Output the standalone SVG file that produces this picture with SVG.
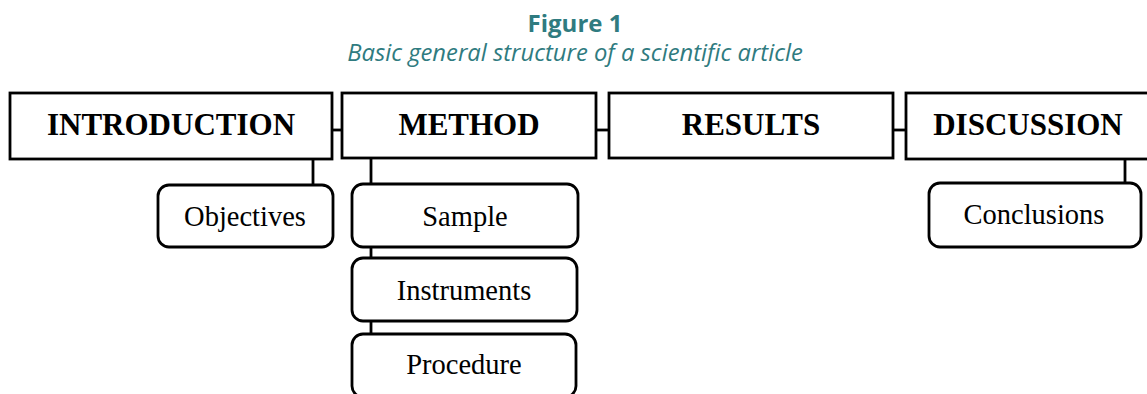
<svg xmlns="http://www.w3.org/2000/svg" width="1147" height="394" viewBox="0 0 1147 394">
<style>
.main{fill:#fff;stroke:#000;stroke-width:2.8}
.sub{fill:#fff;stroke:#000;stroke-width:2.8}
.h{font-family:"Liberation Serif",serif;font-weight:bold;font-size:31px;text-anchor:middle;fill:#000}
.s{font-family:"Liberation Serif",serif;font-size:28.5px;text-anchor:middle;fill:#000}
.c line{stroke:#000;stroke-width:2.8}
.t1{font-family:"Open Sans",sans-serif;font-weight:bold;font-size:24px;text-anchor:middle;fill:#2f7b80}
.t2{font-family:"Open Sans",sans-serif;font-style:italic;font-size:23.8px;text-anchor:middle;fill:#2f7b80}
</style>
<rect width="1147" height="394" fill="#fff"/>
<text class="t1" x="575" y="32">Figure 1</text>
<text class="t2" x="575" y="61">Basic general structure of a scientific article</text>
<g class="c" id="connectors">
<line x1="332" y1="130" x2="342" y2="130"/>
<line x1="596" y1="130" x2="609" y2="130"/>
<line x1="893" y1="130" x2="906" y2="130"/>
<line x1="313" y1="159" x2="313" y2="185"/>
<line x1="371" y1="158" x2="371" y2="184"/>
<line x1="371" y1="247" x2="371" y2="258"/>
<line x1="371" y1="321" x2="371" y2="334"/>
<line x1="1125" y1="159" x2="1125" y2="183"/>
</g>
<g id="introduction"><rect class="main" x="10" y="93" width="322" height="66"/><text class="h" x="171" y="135">INTRODUCTION</text></g>
<g id="method"><rect class="main" x="342" y="93" width="254" height="65"/><text class="h" x="469" y="135">METHOD</text></g>
<g id="results"><rect class="main" x="609" y="93" width="284" height="65"/><text class="h" x="751" y="135">RESULTS</text></g>
<g id="discussion"><rect class="main" x="906" y="93" width="244" height="66"/><text class="h" x="1028" y="135">DISCUSSION</text></g>
<g id="objectives"><rect class="sub" x="158" y="185" width="175" height="62" rx="11"/><text class="s" x="245" y="226">Objectives</text></g>
<g id="sample"><rect class="sub" x="352" y="184" width="226" height="63" rx="11"/><text class="s" x="465" y="226">Sample</text></g>
<g id="instruments"><rect class="sub" x="352" y="258" width="225" height="63" rx="11"/><text class="s" x="464" y="300">Instruments</text></g>
<g id="procedure"><rect class="sub" x="352" y="334" width="224" height="63" rx="11"/><text class="s" x="464" y="374">Procedure</text></g>
<g id="conclusions"><rect class="sub" x="929" y="183" width="212" height="64" rx="11"/><text class="s" x="1034" y="224">Conclusions</text></g>
</svg>
